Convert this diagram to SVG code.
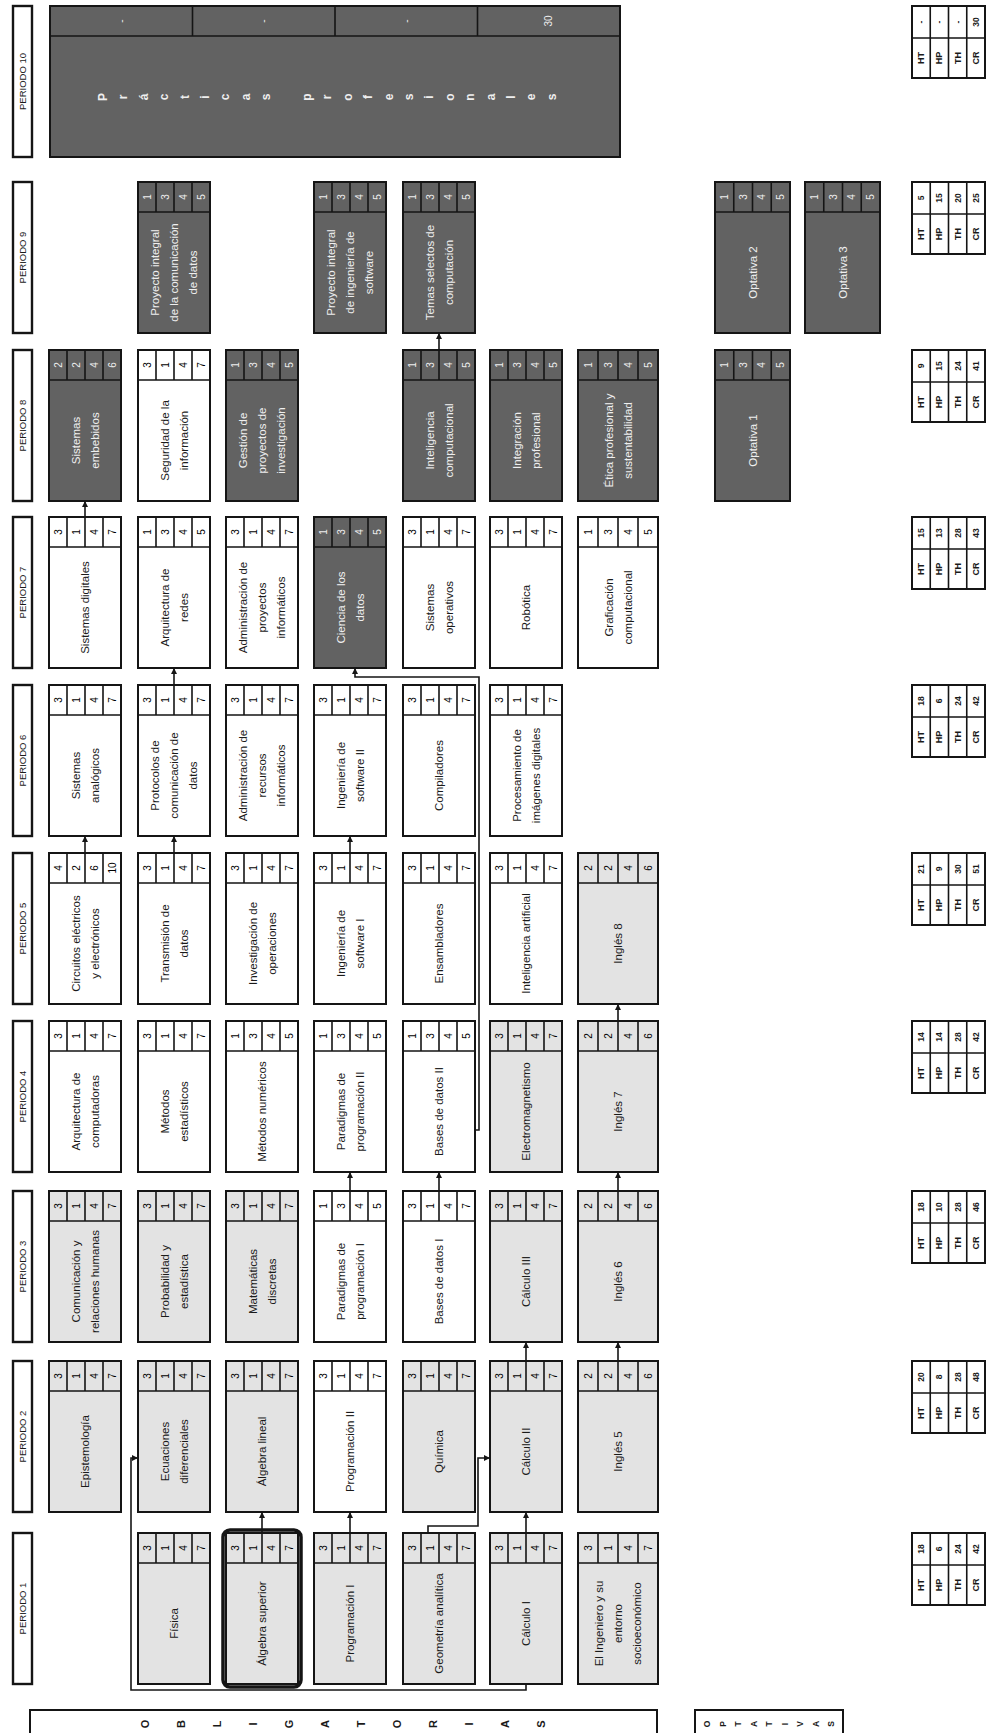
<svg xmlns="http://www.w3.org/2000/svg" width="986" height="1733" viewBox="0 0 986 1733">
<style>
text{font-family:"Liberation Sans Narrow","Liberation Sans",Arial,sans-serif;text-anchor:middle;dominant-baseline:central}
.b{stroke:#151515;stroke-width:2;fill:#fff}
.lt{fill:#e3e3e3}
.dk{fill:#626262}
.g{stroke:#151515;stroke-width:1.6;fill:none}
.pb{fill:#fff;stroke:#151515;stroke-width:2.4}
.nm{font-size:11.5px;fill:#1a1a1a}
.nw{font-size:11.5px;fill:#efefef}
.vv{font-size:10px}
.pl{font-size:9.5px;fill:#1a1a1a}
.hl{font-size:9px;font-weight:bold;fill:#1a1a1a}
.hv{font-size:8.5px;font-weight:bold;fill:#1a1a1a}
.cn{stroke:#151515;stroke-width:1.6;fill:none;marker-end:url(#ah)}
.sp{font-size:12px;font-weight:bold;fill:#eee}
.lg{font-size:11px;font-weight:bold;fill:#1a1a1a}
.hi{fill:none;stroke:#151515;stroke-width:3.5}
</style>
<defs>
<marker id="ah" viewBox="0 0 6 6" refX="6" refY="3" markerWidth="6" markerHeight="6" markerUnits="userSpaceOnUse" orient="auto"><path d="M0 0L6 3L0 6z" fill="#151515"/></marker>
<path id="g72" class="g" d="M0 30h72M18 0v30M36 0v30M54 0v30"/>
<path id="g80" class="g" d="M0 30h80M20 0v30M40 0v30M60 0v30"/>
<path id="g75" class="g" d="M0 30h75M18.75 0v30M37.5 0v30M56.25 0v30"/>
<g id="a3147" class="vv"><text transform="translate(9 15)rotate(-90)">3</text><text transform="translate(27 15)rotate(-90)">1</text><text transform="translate(45 15)rotate(-90)">4</text><text transform="translate(63 15)rotate(-90)">7</text></g>
<g id="a1345" class="vv"><text transform="translate(9 15)rotate(-90)">1</text><text transform="translate(27 15)rotate(-90)">3</text><text transform="translate(45 15)rotate(-90)">4</text><text transform="translate(63 15)rotate(-90)">5</text></g>
<g id="a2246" class="vv"><text transform="translate(9 15)rotate(-90)">2</text><text transform="translate(27 15)rotate(-90)">2</text><text transform="translate(45 15)rotate(-90)">4</text><text transform="translate(63 15)rotate(-90)">6</text></g>
<g id="a42610" class="vv"><text transform="translate(9 15)rotate(-90)">4</text><text transform="translate(27 15)rotate(-90)">2</text><text transform="translate(45 15)rotate(-90)">6</text><text transform="translate(63 15)rotate(-90)">10</text></g>
<g id="b3147" class="vv"><text transform="translate(10 15)rotate(-90)">3</text><text transform="translate(30 15)rotate(-90)">1</text><text transform="translate(50 15)rotate(-90)">4</text><text transform="translate(70 15)rotate(-90)">7</text></g>
<g id="b2246" class="vv"><text transform="translate(10 15)rotate(-90)">2</text><text transform="translate(30 15)rotate(-90)">2</text><text transform="translate(50 15)rotate(-90)">4</text><text transform="translate(70 15)rotate(-90)">6</text></g>
<g id="b1345" class="vv"><text transform="translate(10 15)rotate(-90)">1</text><text transform="translate(30 15)rotate(-90)">3</text><text transform="translate(50 15)rotate(-90)">4</text><text transform="translate(70 15)rotate(-90)">5</text></g>
<g id="c1345" class="vv"><text transform="translate(9.4 15)rotate(-90)">1</text><text transform="translate(28.1 15)rotate(-90)">3</text><text transform="translate(46.9 15)rotate(-90)">4</text><text transform="translate(65.6 15)rotate(-90)">5</text></g>
<g id="hb"><rect class="b" width="73" height="72"/><path class="g" d="M0 32h73M18.25 0v72M36.5 0v72M54.75 0v72"/><text class="hl" transform="translate(9.1 52)rotate(-90)">HT</text><text class="hl" transform="translate(27.4 52)rotate(-90)">HP</text><text class="hl" transform="translate(45.6 52)rotate(-90)">TH</text><text class="hl" transform="translate(63.9 52)rotate(-90)">CR</text></g>
</defs>
<rect width="986" height="1733" fill="#fff"/>

<!-- period labels -->
<g id="periodo-10"><rect class="pb" x="13" y="6" width="19" height="151"/><text class="pl" transform="translate(22.5 81.5)rotate(-90)">PERIODO 10</text></g>
<g id="periodo-9"><rect class="pb" x="13" y="182" width="19" height="151"/><text class="pl" transform="translate(22.5 257.5)rotate(-90)">PERIODO 9</text></g>
<g id="periodo-8"><rect class="pb" x="13" y="350" width="19" height="151"/><text class="pl" transform="translate(22.5 425.5)rotate(-90)">PERIODO 8</text></g>
<g id="periodo-7"><rect class="pb" x="13" y="517" width="19" height="151"/><text class="pl" transform="translate(22.5 592.5)rotate(-90)">PERIODO 7</text></g>
<g id="periodo-6"><rect class="pb" x="13" y="685" width="19" height="151"/><text class="pl" transform="translate(22.5 760.5)rotate(-90)">PERIODO 6</text></g>
<g id="periodo-5"><rect class="pb" x="13" y="853" width="19" height="151"/><text class="pl" transform="translate(22.5 928.5)rotate(-90)">PERIODO 5</text></g>
<g id="periodo-4"><rect class="pb" x="13" y="1021" width="19" height="151"/><text class="pl" transform="translate(22.5 1096.5)rotate(-90)">PERIODO 4</text></g>
<g id="periodo-3"><rect class="pb" x="13" y="1191" width="19" height="151"/><text class="pl" transform="translate(22.5 1266.5)rotate(-90)">PERIODO 3</text></g>
<g id="periodo-2"><rect class="pb" x="13" y="1361" width="19" height="151"/><text class="pl" transform="translate(22.5 1436.5)rotate(-90)">PERIODO 2</text></g>
<g id="periodo-1"><rect class="pb" x="13" y="1533" width="19" height="151"/><text class="pl" transform="translate(22.5 1608.5)rotate(-90)">PERIODO 1</text></g>

<!-- Periodo 10 -->
<g id="practicas-profesionales"><rect class="b dk" x="50" y="6" width="570" height="151"/><path class="g" d="M50 36h570M192.5 6v30M335 6v30M477.5 6v30"/>
<text class="vv" fill="#eee" transform="translate(121.25 21)rotate(-90)">-</text><text class="vv" fill="#eee" transform="translate(263.75 21)rotate(-90)">-</text><text class="vv" fill="#eee" transform="translate(406.25 21)rotate(-90)">-</text><text class="vv" fill="#eee" transform="translate(548.75 21)rotate(-90)">30</text>
<text class="sp" transform="translate(0 97)rotate(-90)"><tspan x="0" y="103">P</tspan><tspan x="0" y="123.4">r</tspan><tspan x="0" y="143.8">á</tspan><tspan x="0" y="164.2">c</tspan><tspan x="0" y="184.6">t</tspan><tspan x="0" y="205">i</tspan><tspan x="0" y="225.4">c</tspan><tspan x="0" y="245.8">a</tspan><tspan x="0" y="266.2">s</tspan><tspan x="0" y="307">p</tspan><tspan x="0" y="327.4">r</tspan><tspan x="0" y="347.8">o</tspan><tspan x="0" y="368.2">f</tspan><tspan x="0" y="388.6">e</tspan><tspan x="0" y="409">s</tspan><tspan x="0" y="429.4">i</tspan><tspan x="0" y="449.8">o</tspan><tspan x="0" y="470.2">n</tspan><tspan x="0" y="490.6">a</tspan><tspan x="0" y="511">l</tspan><tspan x="0" y="531.4">e</tspan><tspan x="0" y="551.8">s</tspan></text></g>

<!-- Periodo 9 -->
<g id="proyecto-comunicacion"><rect class="b dk" x="138" y="182" width="72" height="151"/><use href="#g72" x="138" y="182"/><use href="#a1345" x="138" y="182" fill="#eee"/><text class="nw" transform="translate(174 272.5)rotate(-90)"><tspan x="0" y="-19">Proyecto integral</tspan><tspan x="0" y="0">de la comunicación</tspan><tspan x="0" y="19">de datos</tspan></text></g>
<g id="proyecto-software"><rect class="b dk" x="314" y="182" width="72" height="151"/><use href="#g72" x="314" y="182"/><use href="#a1345" x="314" y="182" fill="#eee"/><text class="nw" transform="translate(350 272.5)rotate(-90)"><tspan x="0" y="-19">Proyecto integral</tspan><tspan x="0" y="0">de ingeniería de</tspan><tspan x="0" y="19">software</tspan></text></g>
<g id="temas-selectos"><rect class="b dk" x="403" y="182" width="72" height="151"/><use href="#g72" x="403" y="182"/><use href="#a1345" x="403" y="182" fill="#eee"/><text class="nw" transform="translate(439 272.5)rotate(-90)"><tspan x="0" y="-9.5">Temas selectos de</tspan><tspan x="0" y="9.5">computación</tspan></text></g>
<g id="optativa-2"><rect class="b dk" x="715" y="182" width="75" height="151"/><use href="#g75" x="715" y="182"/><use href="#c1345" x="715" y="182" fill="#eee"/><text class="nw" transform="translate(752.5 272.5)rotate(-90)">Optativa 2</text></g>
<g id="optativa-3"><rect class="b dk" x="805" y="182" width="75" height="151"/><use href="#g75" x="805" y="182"/><use href="#c1345" x="805" y="182" fill="#eee"/><text class="nw" transform="translate(842.5 272.5)rotate(-90)">Optativa 3</text></g>

<!-- Periodo 8 -->
<g id="sistemas-embebidos"><rect class="b dk" x="49" y="350" width="72" height="151"/><use href="#g72" x="49" y="350"/><use href="#a2246" x="49" y="350" fill="#eee"/><text class="nw" transform="translate(85 440.5)rotate(-90)"><tspan x="0" y="-9.5">Sistemas</tspan><tspan x="0" y="9.5">embebidos</tspan></text></g>
<g id="seguridad-informacion"><rect class="b" x="138" y="350" width="72" height="151"/><use href="#g72" x="138" y="350"/><use href="#a3147" x="138" y="350"/><text class="nm" transform="translate(174 440.5)rotate(-90)"><tspan x="0" y="-9.5">Seguridad de la</tspan><tspan x="0" y="9.5">información</tspan></text></g>
<g id="gestion-proyectos"><rect class="b dk" x="226" y="350" width="72" height="151"/><use href="#g72" x="226" y="350"/><use href="#a1345" x="226" y="350" fill="#eee"/><text class="nw" transform="translate(262 440.5)rotate(-90)"><tspan x="0" y="-19">Gestión de</tspan><tspan x="0" y="0">proyectos de</tspan><tspan x="0" y="19">investigación</tspan></text></g>
<g id="inteligencia-computacional"><rect class="b dk" x="403" y="350" width="72" height="151"/><use href="#g72" x="403" y="350"/><use href="#a1345" x="403" y="350" fill="#eee"/><text class="nw" transform="translate(439 440.5)rotate(-90)"><tspan x="0" y="-9.5">Inteligencia</tspan><tspan x="0" y="9.5">computacional</tspan></text></g>
<g id="integracion-profesional"><rect class="b dk" x="490" y="350" width="72" height="151"/><use href="#g72" x="490" y="350"/><use href="#a1345" x="490" y="350" fill="#eee"/><text class="nw" transform="translate(526 440.5)rotate(-90)"><tspan x="0" y="-9.5">Integración</tspan><tspan x="0" y="9.5">profesional</tspan></text></g>
<g id="etica-profesional"><rect class="b dk" x="578" y="350" width="80" height="151"/><use href="#g80" x="578" y="350"/><use href="#b1345" x="578" y="350" fill="#eee"/><text class="nw" transform="translate(618 440.5)rotate(-90)"><tspan x="0" y="-9.5">Ética profesional y</tspan><tspan x="0" y="9.5">sustentabilidad</tspan></text></g>
<g id="optativa-1"><rect class="b dk" x="715" y="350" width="75" height="151"/><use href="#g75" x="715" y="350"/><use href="#c1345" x="715" y="350" fill="#eee"/><text class="nw" transform="translate(752.5 440.5)rotate(-90)">Optativa 1</text></g>

<!-- Periodo 7 -->
<g id="sistemas-digitales"><rect class="b" x="49" y="517" width="72" height="151"/><use href="#g72" x="49" y="517"/><use href="#a3147" x="49" y="517"/><text class="nm" transform="translate(85 607.5)rotate(-90)">Sistemas digitales</text></g>
<g id="arquitectura-redes"><rect class="b" x="138" y="517" width="72" height="151"/><use href="#g72" x="138" y="517"/><use href="#a1345" x="138" y="517"/><text class="nm" transform="translate(174 607.5)rotate(-90)"><tspan x="0" y="-9.5">Arquitectura de</tspan><tspan x="0" y="9.5">redes</tspan></text></g>
<g id="admin-proyectos"><rect class="b" x="226" y="517" width="72" height="151"/><use href="#g72" x="226" y="517"/><use href="#a3147" x="226" y="517"/><text class="nm" transform="translate(262 607.5)rotate(-90)"><tspan x="0" y="-19">Administración de</tspan><tspan x="0" y="0">proyectos</tspan><tspan x="0" y="19">informáticos</tspan></text></g>
<g id="ciencia-datos"><rect class="b dk" x="314" y="517" width="72" height="151"/><use href="#g72" x="314" y="517"/><use href="#a1345" x="314" y="517" fill="#eee"/><text class="nw" transform="translate(350 607.5)rotate(-90)"><tspan x="0" y="-9.5">Ciencia de los</tspan><tspan x="0" y="9.5">datos</tspan></text></g>
<g id="sistemas-operativos"><rect class="b" x="403" y="517" width="72" height="151"/><use href="#g72" x="403" y="517"/><use href="#a3147" x="403" y="517"/><text class="nm" transform="translate(439 607.5)rotate(-90)"><tspan x="0" y="-9.5">Sistemas</tspan><tspan x="0" y="9.5">operativos</tspan></text></g>
<g id="robotica"><rect class="b" x="490" y="517" width="72" height="151"/><use href="#g72" x="490" y="517"/><use href="#a3147" x="490" y="517"/><text class="nm" transform="translate(526 607.5)rotate(-90)">Robótica</text></g>
<g id="graficacion"><rect class="b" x="578" y="517" width="80" height="151"/><use href="#g80" x="578" y="517"/><use href="#b1345" x="578" y="517"/><text class="nm" transform="translate(618 607.5)rotate(-90)"><tspan x="0" y="-9.5">Graficación</tspan><tspan x="0" y="9.5">computacional</tspan></text></g>

<!-- Periodo 6 -->
<g id="sistemas-analogicos"><rect class="b" x="49" y="685" width="72" height="151"/><use href="#g72" x="49" y="685"/><use href="#a3147" x="49" y="685"/><text class="nm" transform="translate(85 775.5)rotate(-90)"><tspan x="0" y="-9.5">Sistemas</tspan><tspan x="0" y="9.5">analógicos</tspan></text></g>
<g id="protocolos"><rect class="b" x="138" y="685" width="72" height="151"/><use href="#g72" x="138" y="685"/><use href="#a3147" x="138" y="685"/><text class="nm" transform="translate(174 775.5)rotate(-90)"><tspan x="0" y="-19">Protocolos de</tspan><tspan x="0" y="0">comunicación de</tspan><tspan x="0" y="19">datos</tspan></text></g>
<g id="admin-recursos"><rect class="b" x="226" y="685" width="72" height="151"/><use href="#g72" x="226" y="685"/><use href="#a3147" x="226" y="685"/><text class="nm" transform="translate(262 775.5)rotate(-90)"><tspan x="0" y="-19">Administración de</tspan><tspan x="0" y="0">recursos</tspan><tspan x="0" y="19">informáticos</tspan></text></g>
<g id="ing-software-2"><rect class="b" x="314" y="685" width="72" height="151"/><use href="#g72" x="314" y="685"/><use href="#a3147" x="314" y="685"/><text class="nm" transform="translate(350 775.5)rotate(-90)"><tspan x="0" y="-9.5">Ingeniería de</tspan><tspan x="0" y="9.5">software II</tspan></text></g>
<g id="compiladores"><rect class="b" x="403" y="685" width="72" height="151"/><use href="#g72" x="403" y="685"/><use href="#a3147" x="403" y="685"/><text class="nm" transform="translate(439 775.5)rotate(-90)">Compiladores</text></g>
<g id="procesamiento-imagenes"><rect class="b" x="490" y="685" width="72" height="151"/><use href="#g72" x="490" y="685"/><use href="#a3147" x="490" y="685"/><text class="nm" transform="translate(526 775.5)rotate(-90)"><tspan x="0" y="-9.5">Procesamiento de</tspan><tspan x="0" y="9.5">imágenes digitales</tspan></text></g>

<!-- Periodo 5 -->
<g id="circuitos"><rect class="b" x="49" y="853" width="72" height="151"/><use href="#g72" x="49" y="853"/><use href="#a42610" x="49" y="853"/><text class="nm" transform="translate(85 943.5)rotate(-90)"><tspan x="0" y="-9.5">Circuitos eléctricos</tspan><tspan x="0" y="9.5">y electrónicos</tspan></text></g>
<g id="transmision-datos"><rect class="b" x="138" y="853" width="72" height="151"/><use href="#g72" x="138" y="853"/><use href="#a3147" x="138" y="853"/><text class="nm" transform="translate(174 943.5)rotate(-90)"><tspan x="0" y="-9.5">Transmisión de</tspan><tspan x="0" y="9.5">datos</tspan></text></g>
<g id="investigacion-operaciones"><rect class="b" x="226" y="853" width="72" height="151"/><use href="#g72" x="226" y="853"/><use href="#a3147" x="226" y="853"/><text class="nm" transform="translate(262 943.5)rotate(-90)"><tspan x="0" y="-9.5">Investigación de</tspan><tspan x="0" y="9.5">operaciones</tspan></text></g>
<g id="ing-software-1"><rect class="b" x="314" y="853" width="72" height="151"/><use href="#g72" x="314" y="853"/><use href="#a3147" x="314" y="853"/><text class="nm" transform="translate(350 943.5)rotate(-90)"><tspan x="0" y="-9.5">Ingeniería de</tspan><tspan x="0" y="9.5">software I</tspan></text></g>
<g id="ensambladores"><rect class="b" x="403" y="853" width="72" height="151"/><use href="#g72" x="403" y="853"/><use href="#a3147" x="403" y="853"/><text class="nm" transform="translate(439 943.5)rotate(-90)">Ensambladores</text></g>
<g id="inteligencia-artificial"><rect class="b" x="490" y="853" width="72" height="151"/><use href="#g72" x="490" y="853"/><use href="#a3147" x="490" y="853"/><text class="nm" transform="translate(526 943.5)rotate(-90)">Inteligencia artificial</text></g>
<g id="ingles-8"><rect class="b lt" x="578" y="853" width="80" height="151"/><use href="#g80" x="578" y="853"/><use href="#b2246" x="578" y="853"/><text class="nm" transform="translate(618 943.5)rotate(-90)">Inglés 8</text></g>

<!-- Periodo 4 -->
<g id="arq-computadoras"><rect class="b" x="49" y="1021" width="72" height="151"/><use href="#g72" x="49" y="1021"/><use href="#a3147" x="49" y="1021"/><text class="nm" transform="translate(85 1111.5)rotate(-90)"><tspan x="0" y="-9.5">Arquitectura de</tspan><tspan x="0" y="9.5">computadoras</tspan></text></g>
<g id="metodos-estadisticos"><rect class="b" x="138" y="1021" width="72" height="151"/><use href="#g72" x="138" y="1021"/><use href="#a3147" x="138" y="1021"/><text class="nm" transform="translate(174 1111.5)rotate(-90)"><tspan x="0" y="-9.5">Métodos</tspan><tspan x="0" y="9.5">estadísticos</tspan></text></g>
<g id="metodos-numericos"><rect class="b" x="226" y="1021" width="72" height="151"/><use href="#g72" x="226" y="1021"/><use href="#a1345" x="226" y="1021"/><text class="nm" transform="translate(262 1111.5)rotate(-90)">Métodos numéricos</text></g>
<g id="paradigmas-2"><rect class="b" x="314" y="1021" width="72" height="151"/><use href="#g72" x="314" y="1021"/><use href="#a1345" x="314" y="1021"/><text class="nm" transform="translate(350 1111.5)rotate(-90)"><tspan x="0" y="-9.5">Paradigmas de</tspan><tspan x="0" y="9.5">programación II</tspan></text></g>
<g id="bases-datos-2"><rect class="b" x="403" y="1021" width="72" height="151"/><use href="#g72" x="403" y="1021"/><use href="#a1345" x="403" y="1021"/><text class="nm" transform="translate(439 1111.5)rotate(-90)">Bases de datos II</text></g>
<g id="electromagnetismo"><rect class="b lt" x="490" y="1021" width="72" height="151"/><use href="#g72" x="490" y="1021"/><use href="#a3147" x="490" y="1021"/><text class="nm" transform="translate(526 1111.5)rotate(-90)">Electromagnetismo</text></g>
<g id="ingles-7"><rect class="b lt" x="578" y="1021" width="80" height="151"/><use href="#g80" x="578" y="1021"/><use href="#b2246" x="578" y="1021"/><text class="nm" transform="translate(618 1111.5)rotate(-90)">Inglés 7</text></g>

<!-- Periodo 3 -->
<g id="comunicacion-relaciones"><rect class="b lt" x="49" y="1191" width="72" height="151"/><use href="#g72" x="49" y="1191"/><use href="#a3147" x="49" y="1191"/><text class="nm" transform="translate(85 1281.5)rotate(-90)"><tspan x="0" y="-9.5">Comunicación y</tspan><tspan x="0" y="9.5">relaciones humanas</tspan></text></g>
<g id="probabilidad"><rect class="b lt" x="138" y="1191" width="72" height="151"/><use href="#g72" x="138" y="1191"/><use href="#a3147" x="138" y="1191"/><text class="nm" transform="translate(174 1281.5)rotate(-90)"><tspan x="0" y="-9.5">Probabilidad y</tspan><tspan x="0" y="9.5">estadística</tspan></text></g>
<g id="matematicas-discretas"><rect class="b lt" x="226" y="1191" width="72" height="151"/><use href="#g72" x="226" y="1191"/><use href="#a3147" x="226" y="1191"/><text class="nm" transform="translate(262 1281.5)rotate(-90)"><tspan x="0" y="-9.5">Matemáticas</tspan><tspan x="0" y="9.5">discretas</tspan></text></g>
<g id="paradigmas-1"><rect class="b" x="314" y="1191" width="72" height="151"/><use href="#g72" x="314" y="1191"/><use href="#a1345" x="314" y="1191"/><text class="nm" transform="translate(350 1281.5)rotate(-90)"><tspan x="0" y="-9.5">Paradigmas de</tspan><tspan x="0" y="9.5">programación I</tspan></text></g>
<g id="bases-datos-1"><rect class="b" x="403" y="1191" width="72" height="151"/><use href="#g72" x="403" y="1191"/><use href="#a3147" x="403" y="1191"/><text class="nm" transform="translate(439 1281.5)rotate(-90)">Bases de datos I</text></g>
<g id="calculo-3"><rect class="b lt" x="490" y="1191" width="72" height="151"/><use href="#g72" x="490" y="1191"/><use href="#a3147" x="490" y="1191"/><text class="nm" transform="translate(526 1281.5)rotate(-90)">Cálculo III</text></g>
<g id="ingles-6"><rect class="b lt" x="578" y="1191" width="80" height="151"/><use href="#g80" x="578" y="1191"/><use href="#b2246" x="578" y="1191"/><text class="nm" transform="translate(618 1281.5)rotate(-90)">Inglés 6</text></g>

<!-- Periodo 2 -->
<g id="epistemologia"><rect class="b lt" x="49" y="1361" width="72" height="151"/><use href="#g72" x="49" y="1361"/><use href="#a3147" x="49" y="1361"/><text class="nm" transform="translate(85 1451.5)rotate(-90)">Epistemología</text></g>
<g id="ecuaciones-diferenciales"><rect class="b lt" x="138" y="1361" width="72" height="151"/><use href="#g72" x="138" y="1361"/><use href="#a3147" x="138" y="1361"/><text class="nm" transform="translate(174 1451.5)rotate(-90)"><tspan x="0" y="-9.5">Ecuaciones</tspan><tspan x="0" y="9.5">diferenciales</tspan></text></g>
<g id="algebra-lineal"><rect class="b lt" x="226" y="1361" width="72" height="151"/><use href="#g72" x="226" y="1361"/><use href="#a3147" x="226" y="1361"/><text class="nm" transform="translate(262 1451.5)rotate(-90)">Álgebra lineal</text></g>
<g id="programacion-2"><rect class="b" x="314" y="1361" width="72" height="151"/><use href="#g72" x="314" y="1361"/><use href="#a3147" x="314" y="1361"/><text class="nm" transform="translate(350 1451.5)rotate(-90)">Programación II</text></g>
<g id="quimica"><rect class="b lt" x="403" y="1361" width="72" height="151"/><use href="#g72" x="403" y="1361"/><use href="#a3147" x="403" y="1361"/><text class="nm" transform="translate(439 1451.5)rotate(-90)">Química</text></g>
<g id="calculo-2"><rect class="b lt" x="490" y="1361" width="72" height="151"/><use href="#g72" x="490" y="1361"/><use href="#a3147" x="490" y="1361"/><text class="nm" transform="translate(526 1451.5)rotate(-90)">Cálculo II</text></g>
<g id="ingles-5"><rect class="b lt" x="578" y="1361" width="80" height="151"/><use href="#g80" x="578" y="1361"/><use href="#b2246" x="578" y="1361"/><text class="nm" transform="translate(618 1451.5)rotate(-90)">Inglés 5</text></g>

<!-- Periodo 1 -->
<g id="fisica"><rect class="b lt" x="138" y="1533" width="72" height="151"/><use href="#g72" x="138" y="1533"/><use href="#a3147" x="138" y="1533"/><text class="nm" transform="translate(174 1623.5)rotate(-90)">Física</text></g>
<g id="algebra-superior"><rect class="b lt" x="226" y="1533" width="72" height="151"/><use href="#g72" x="226" y="1533"/><use href="#a3147" x="226" y="1533"/><text class="nm" transform="translate(262 1623.5)rotate(-90)">Álgebra superior</text><rect class="hi" x="223" y="1530" width="78" height="157" rx="7"/></g>
<g id="programacion-1"><rect class="b lt" x="314" y="1533" width="72" height="151"/><use href="#g72" x="314" y="1533"/><use href="#a3147" x="314" y="1533"/><text class="nm" transform="translate(350 1623.5)rotate(-90)">Programación I</text></g>
<g id="geometria-analitica"><rect class="b lt" x="403" y="1533" width="72" height="151"/><use href="#g72" x="403" y="1533"/><use href="#a3147" x="403" y="1533"/><text class="nm" transform="translate(439 1623.5)rotate(-90)">Geometría analítica</text></g>
<g id="calculo-1"><rect class="b lt" x="490" y="1533" width="72" height="151"/><use href="#g72" x="490" y="1533"/><use href="#a3147" x="490" y="1533"/><text class="nm" transform="translate(526 1623.5)rotate(-90)">Cálculo I</text></g>
<g id="ingeniero-entorno"><rect class="b lt" x="578" y="1533" width="80" height="151"/><use href="#g80" x="578" y="1533"/><use href="#b3147" x="578" y="1533"/><text class="nm" transform="translate(618 1623.5)rotate(-90)"><tspan x="0" y="-19">El Ingeniero y su</tspan><tspan x="0" y="0">entorno</tspan><tspan x="0" y="19">socioeconómico</tspan></text></g>

<!-- totals per period -->
<g id="totales-p10"><use href="#hb" x="912" y="6"/><text class="hv" transform="translate(921.1 22)rotate(-90)">-</text><text class="hv" transform="translate(939.4 22)rotate(-90)">-</text><text class="hv" transform="translate(957.6 22)rotate(-90)">-</text><text class="hv" transform="translate(975.9 22)rotate(-90)">30</text></g>
<g id="totales-p9"><use href="#hb" x="912" y="182"/><text class="hv" transform="translate(921.1 198)rotate(-90)">5</text><text class="hv" transform="translate(939.4 198)rotate(-90)">15</text><text class="hv" transform="translate(957.6 198)rotate(-90)">20</text><text class="hv" transform="translate(975.9 198)rotate(-90)">25</text></g>
<g id="totales-p8"><use href="#hb" x="912" y="350"/><text class="hv" transform="translate(921.1 366)rotate(-90)">9</text><text class="hv" transform="translate(939.4 366)rotate(-90)">15</text><text class="hv" transform="translate(957.6 366)rotate(-90)">24</text><text class="hv" transform="translate(975.9 366)rotate(-90)">41</text></g>
<g id="totales-p7"><use href="#hb" x="912" y="517"/><text class="hv" transform="translate(921.1 533)rotate(-90)">15</text><text class="hv" transform="translate(939.4 533)rotate(-90)">13</text><text class="hv" transform="translate(957.6 533)rotate(-90)">28</text><text class="hv" transform="translate(975.9 533)rotate(-90)">43</text></g>
<g id="totales-p6"><use href="#hb" x="912" y="685"/><text class="hv" transform="translate(921.1 701)rotate(-90)">18</text><text class="hv" transform="translate(939.4 701)rotate(-90)">6</text><text class="hv" transform="translate(957.6 701)rotate(-90)">24</text><text class="hv" transform="translate(975.9 701)rotate(-90)">42</text></g>
<g id="totales-p5"><use href="#hb" x="912" y="853"/><text class="hv" transform="translate(921.1 869)rotate(-90)">21</text><text class="hv" transform="translate(939.4 869)rotate(-90)">9</text><text class="hv" transform="translate(957.6 869)rotate(-90)">30</text><text class="hv" transform="translate(975.9 869)rotate(-90)">51</text></g>
<g id="totales-p4"><use href="#hb" x="912" y="1021"/><text class="hv" transform="translate(921.1 1037)rotate(-90)">14</text><text class="hv" transform="translate(939.4 1037)rotate(-90)">14</text><text class="hv" transform="translate(957.6 1037)rotate(-90)">28</text><text class="hv" transform="translate(975.9 1037)rotate(-90)">42</text></g>
<g id="totales-p3"><use href="#hb" x="912" y="1191"/><text class="hv" transform="translate(921.1 1207)rotate(-90)">18</text><text class="hv" transform="translate(939.4 1207)rotate(-90)">10</text><text class="hv" transform="translate(957.6 1207)rotate(-90)">28</text><text class="hv" transform="translate(975.9 1207)rotate(-90)">46</text></g>
<g id="totales-p2"><use href="#hb" x="912" y="1361"/><text class="hv" transform="translate(921.1 1377)rotate(-90)">20</text><text class="hv" transform="translate(939.4 1377)rotate(-90)">8</text><text class="hv" transform="translate(957.6 1377)rotate(-90)">28</text><text class="hv" transform="translate(975.9 1377)rotate(-90)">48</text></g>
<g id="totales-p1"><use href="#hb" x="912" y="1533"/><text class="hv" transform="translate(921.1 1549)rotate(-90)">18</text><text class="hv" transform="translate(939.4 1549)rotate(-90)">6</text><text class="hv" transform="translate(957.6 1549)rotate(-90)">24</text><text class="hv" transform="translate(975.9 1549)rotate(-90)">42</text></g>

<!-- legend -->
<g id="leyenda-obligatorias"><rect class="b" x="30" y="1710" width="627" height="40"/><text class="lg" transform="translate(0 1724)rotate(-90)"><tspan x="0" y="145">O</tspan><tspan x="0" y="181">B</tspan><tspan x="0" y="217">L</tspan><tspan x="0" y="253">I</tspan><tspan x="0" y="289">G</tspan><tspan x="0" y="325">A</tspan><tspan x="0" y="361">T</tspan><tspan x="0" y="397">O</tspan><tspan x="0" y="433">R</tspan><tspan x="0" y="469">I</tspan><tspan x="0" y="505">A</tspan><tspan x="0" y="541">S</tspan></text></g>
<g id="leyenda-optativas"><rect class="b" x="695" y="1710" width="148" height="40"/><text class="hv" transform="translate(0 1724)rotate(-90)"><tspan x="0" y="707">O</tspan><tspan x="0" y="722.5">P</tspan><tspan x="0" y="738">T</tspan><tspan x="0" y="753.5">A</tspan><tspan x="0" y="769">T</tspan><tspan x="0" y="784.5">I</tspan><tspan x="0" y="800">V</tspan><tspan x="0" y="815.5">A</tspan><tspan x="0" y="831">S</tspan></text></g>

<!-- connectors -->
<g id="conectores">
<path class="cn" d="M262 1533V1512"/>
<path class="cn" d="M350 1533V1512"/>
<path class="cn" d="M526 1533V1512"/>
<path class="cn" d="M428 1533V1526H478V1458H490"/>
<path class="cn" d="M526 1684V1690H131V1458H138"/>
<path class="cn" d="M526 1361V1342"/>
<path class="cn" d="M618 1361V1342"/>
<path class="cn" d="M350 1191V1172"/>
<path class="cn" d="M439 1191V1172"/>
<path class="cn" d="M618 1191V1172"/>
<path class="cn" d="M618 1021V1004"/>
<path class="cn" d="M475 1130H479V677H355V668"/>
<path class="cn" d="M85 853V836"/>
<path class="cn" d="M174 853V836"/>
<path class="cn" d="M350 853V836"/>
<path class="cn" d="M174 685V668"/>
<path class="cn" d="M85 517V501"/>
<path class="cn" d="M439 350V333"/>
</g>
</svg>
